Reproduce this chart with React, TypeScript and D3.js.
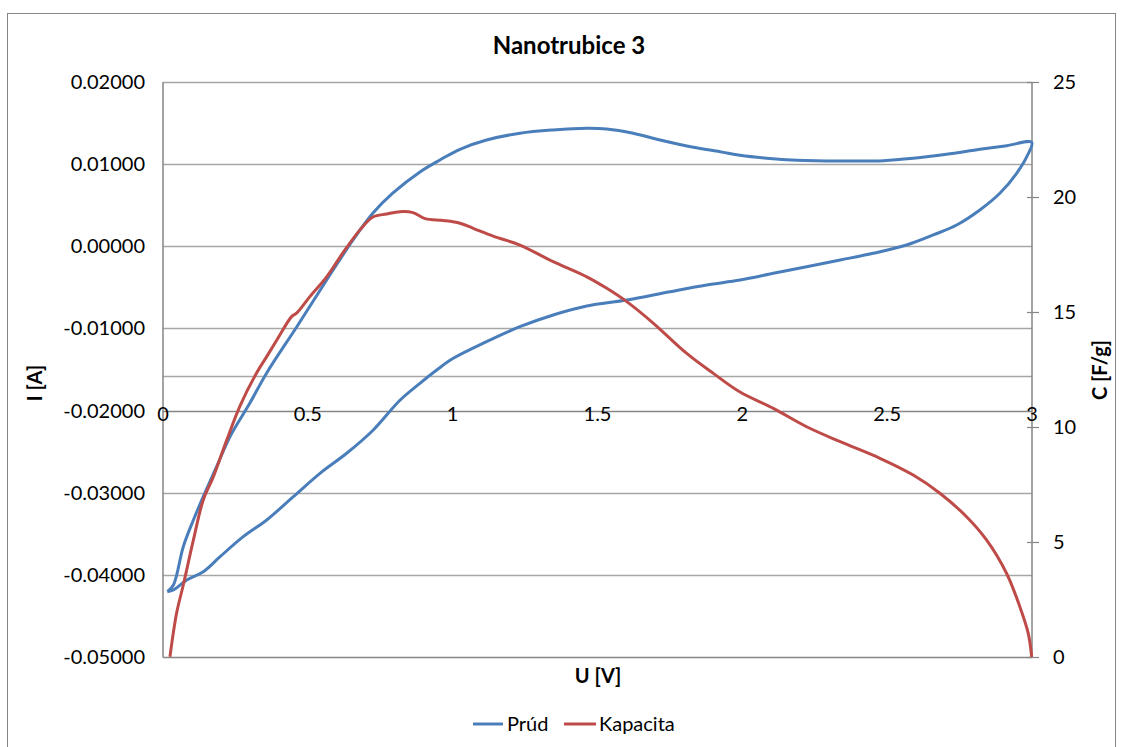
import React from "react";
import * as d3 from "d3";

// ---- Data ----
const chartTitle = "Nanotrubice 3";
const xTitle = "U [V]";
const yLeftTitle = "I [A]";
const yRightTitle = "C [F/g]";
const seriesNames = ["Prúd", "Kapacita"];

const uTicks = [0, 0.5, 1, 1.5, 2, 2.5, 3];
const iTicks = [0.02, 0.01, 0, -0.01, -0.02, -0.03, -0.04, -0.05];
const iGrid = [0.02, 0.01, 0, -0.01, -0.0158, -0.03, -0.04];
const cTicks = [0, 5, 10, 15, 20, 25];
const xAxisCrossI = -0.02;

// Prúd (CV loop): U [V]
const prudU = [
  0.015, 0.036, 0.07, 0.105, 0.139, 0.185, 0.231, 0.3, 0.358, 0.462, 0.565, 0.656, 0.725, 0.794,
  0.887, 0.956, 1.025, 1.117, 1.232, 1.347, 1.463, 1.532, 1.623, 1.716, 1.831, 1.923, 1.992, 2.084,
  2.188, 2.338, 2.487, 2.59, 2.705, 2.82, 2.913, 2.999,
  2.982, 2.947, 2.889, 2.82, 2.74, 2.659, 2.567, 2.452, 2.338, 2.222, 2.107, 1.992, 1.877, 1.75,
  1.601, 1.463, 1.347, 1.232, 1.117, 1.002, 0.945, 0.887, 0.818, 0.726, 0.634, 0.542, 0.45, 0.358,
  0.277, 0.197, 0.139, 0.082, 0.036, 0.015,
];
// Prúd: I [A]
const prudI = [
  -0.04205, -0.04123, -0.03657, -0.03332, -0.03048, -0.02683, -0.02318, -0.01908, -0.01542,
  -0.00979, -0.0041, 0.00077, 0.00405, 0.00649, 0.00905, 0.01051, 0.01181, 0.01294, 0.01376,
  0.01416, 0.01437, 0.01428, 0.01376, 0.01294, 0.01205, 0.01152, 0.01108, 0.01072, 0.01048,
  0.01038, 0.01042, 0.01071, 0.0112, 0.01181, 0.01225, 0.01266,
  0.01091, 0.00889, 0.00645, 0.00442, 0.00259, 0.00138, 0.00016, -0.00085, -0.00167, -0.00248,
  -0.00329, -0.00411, -0.00471, -0.00553, -0.00654, -0.00727, -0.00836, -0.00979, -0.01161,
  -0.01364, -0.01506, -0.01668, -0.01874, -0.02236, -0.0252, -0.02764, -0.03048, -0.03332,
  -0.03535, -0.03779, -0.03962, -0.04063, -0.04184, -0.04205,
];

// Kapacita: U [V]
const kapU = [
  0.024, 0.047, 0.07, 0.105, 0.139, 0.174, 0.22, 0.266, 0.323, 0.358, 0.393, 0.444, 0.462, 0.507,
  0.565, 0.621, 0.68, 0.725, 0.772, 0.818, 0.863, 0.905, 0.968, 1.025, 1.071, 1.14, 1.232, 1.347,
  1.463, 1.532, 1.601, 1.693, 1.808, 1.9, 1.992, 2.107, 2.222, 2.338, 2.475, 2.59, 2.682, 2.774,
  2.843, 2.912, 2.958, 2.987, 2.999,
];
// Kapacita: C [F/g]
const kapC = [
  0.01, 1.91, 3.13, 5.09, 6.83, 7.84, 9.43, 10.92, 12.35, 13.06, 13.78, 14.8, 14.96, 15.67, 16.53,
  17.57, 18.57, 19.13, 19.26, 19.36, 19.32, 19.06, 18.98, 18.86, 18.64, 18.3, 17.91, 17.19, 16.53,
  16.03, 15.45, 14.51, 13.2, 12.33, 11.52, 10.81, 10.01, 9.36, 8.64, 7.91, 7.12, 6.1, 5.09, 3.64,
  2.19, 1.03, 0.0,
];

const BLUE = "#4a7ebb";
const RED = "#be4b48";
const AXIS = "#868686";
const GRID = "#a6a6a6";
const FONT = "Lato, 'Open Sans', sans-serif";

export default function App() {
  const W = 1123;
  const H = 747;
  const x = d3.scaleLinear().domain([0, 3]).range([163, 1032]);
  const yI = d3.scaleLinear().domain([-0.05, 0.02]).range([657, 82]);
  const yC = d3.scaleLinear().domain([0, 25]).range([657, 82]);

  const prudPts: [number, number][] = prudU.map((u, k) => [u, prudI[k]]);
  const kapPts: [number, number][] = kapU.map((u, k) => [u, kapC[k]]);

  const linePrud = d3
    .line<[number, number]>()
    .x((d) => x(d[0]))
    .y((d) => yI(d[1]))
    .curve(d3.curveCatmullRom.alpha(0.5));
  const lineKap = d3
    .line<[number, number]>()
    .x((d) => x(d[0]))
    .y((d) => yC(d[1]))
    .curve(d3.curveCatmullRom.alpha(0.5));

  const x0 = x(0);
  const x1 = x(3);
  const yAxisX = yI(xAxisCrossI);

  return (
    <svg
      width={W}
      height={H}
      style={{ position: "absolute", left: 0, top: 0, background: "#fff" }}
      fontFamily={FONT}
    >
      <rect x={0} y={0} width={W} height={H} fill="#fff" />
      <rect x={7.5} y={13.5} width={1108} height={745} fill="none" stroke={AXIS} strokeWidth={1} />

      {/* gridlines */}
      {iGrid.map((v) => (
        <line key={"g" + v} x1={x0} x2={x1} y1={Math.round(yI(v)) + 0.5} y2={Math.round(yI(v)) + 0.5} stroke={GRID} strokeWidth={1.5} />
      ))}

      {/* axes */}
      <line x1={x0} x2={x1} y1={657.5} y2={657.5} stroke={AXIS} strokeWidth={1.5} />
      <line x1={x0} x2={x1} y1={Math.round(yAxisX) + 0.5} y2={Math.round(yAxisX) + 0.5} stroke={AXIS} strokeWidth={1.5} />
      <line x1={x0} x2={x0} y1={82} y2={657.5} stroke={AXIS} strokeWidth={1.5} />
      <line x1={x1} x2={x1} y1={82} y2={657.5} stroke={AXIS} strokeWidth={1.5} />
      {cTicks.map((v) => (
        <line key={"ct" + v} x1={x1 - 5} x2={x1 + 7} y1={Math.round(yC(v)) + 0.5} y2={Math.round(yC(v)) + 0.5} stroke={AXIS} strokeWidth={1.2} />
      ))}

      {/* left tick labels */}
      {iTicks.map((v) => (
        <text key={"il" + v} x={145} y={yI(v)} dy="0.35em" textAnchor="end" fontSize={20} fill="#000">
          {v.toFixed(5)}
        </text>
      ))}
      {/* right tick labels */}
      {cTicks.map((v) => (
        <text key={"cl" + v} x={1053} y={yC(v)} dy="0.35em" textAnchor="start" fontSize={20} fill="#000">
          {String(v)}
        </text>
      ))}
      {/* x tick labels */}
      {uTicks.map((v) => (
        <text key={"ul" + v} x={x(v)} y={yAxisX + 10} textAnchor="middle" fontSize={20} fill="#000">
          {String(v)}
        </text>
      ))}

      {/* series */}
      <path d={linePrud(prudPts) || ""} fill="none" stroke={BLUE} strokeWidth={3} strokeLinejoin="round" />
      <path d={lineKap(kapPts) || ""} fill="none" stroke={RED} strokeWidth={3} strokeLinejoin="round" />

      {/* titles */}
      <text x={569} y={54} textAnchor="middle" fontSize={24} fontWeight="bold" fill="#000">
        {chartTitle}
      </text>
      <text x={598} y={683} textAnchor="middle" fontSize={20} fontWeight="bold" fill="#000">
        {xTitle}
      </text>
      <text transform="translate(42,383) rotate(-90)" textAnchor="middle" fontSize={20} fontWeight="bold" fill="#000">
        {yLeftTitle}
      </text>
      <text transform="translate(1107,370) rotate(-90)" textAnchor="middle" fontSize={20} fontWeight="bold" fill="#000">
        {yRightTitle}
      </text>

      {/* legend */}
      <line x1={473} x2={503} y1={724} y2={724} stroke={BLUE} strokeWidth={3} />
      <text x={507} y={731} fontSize={20} fill="#000">
        {seriesNames[0]}
      </text>
      <line x1={564} x2={596} y1={724} y2={724} stroke={RED} strokeWidth={3} />
      <text x={599} y={731} fontSize={20} fill="#000">
        {seriesNames[1]}
      </text>
    </svg>
  );
}
